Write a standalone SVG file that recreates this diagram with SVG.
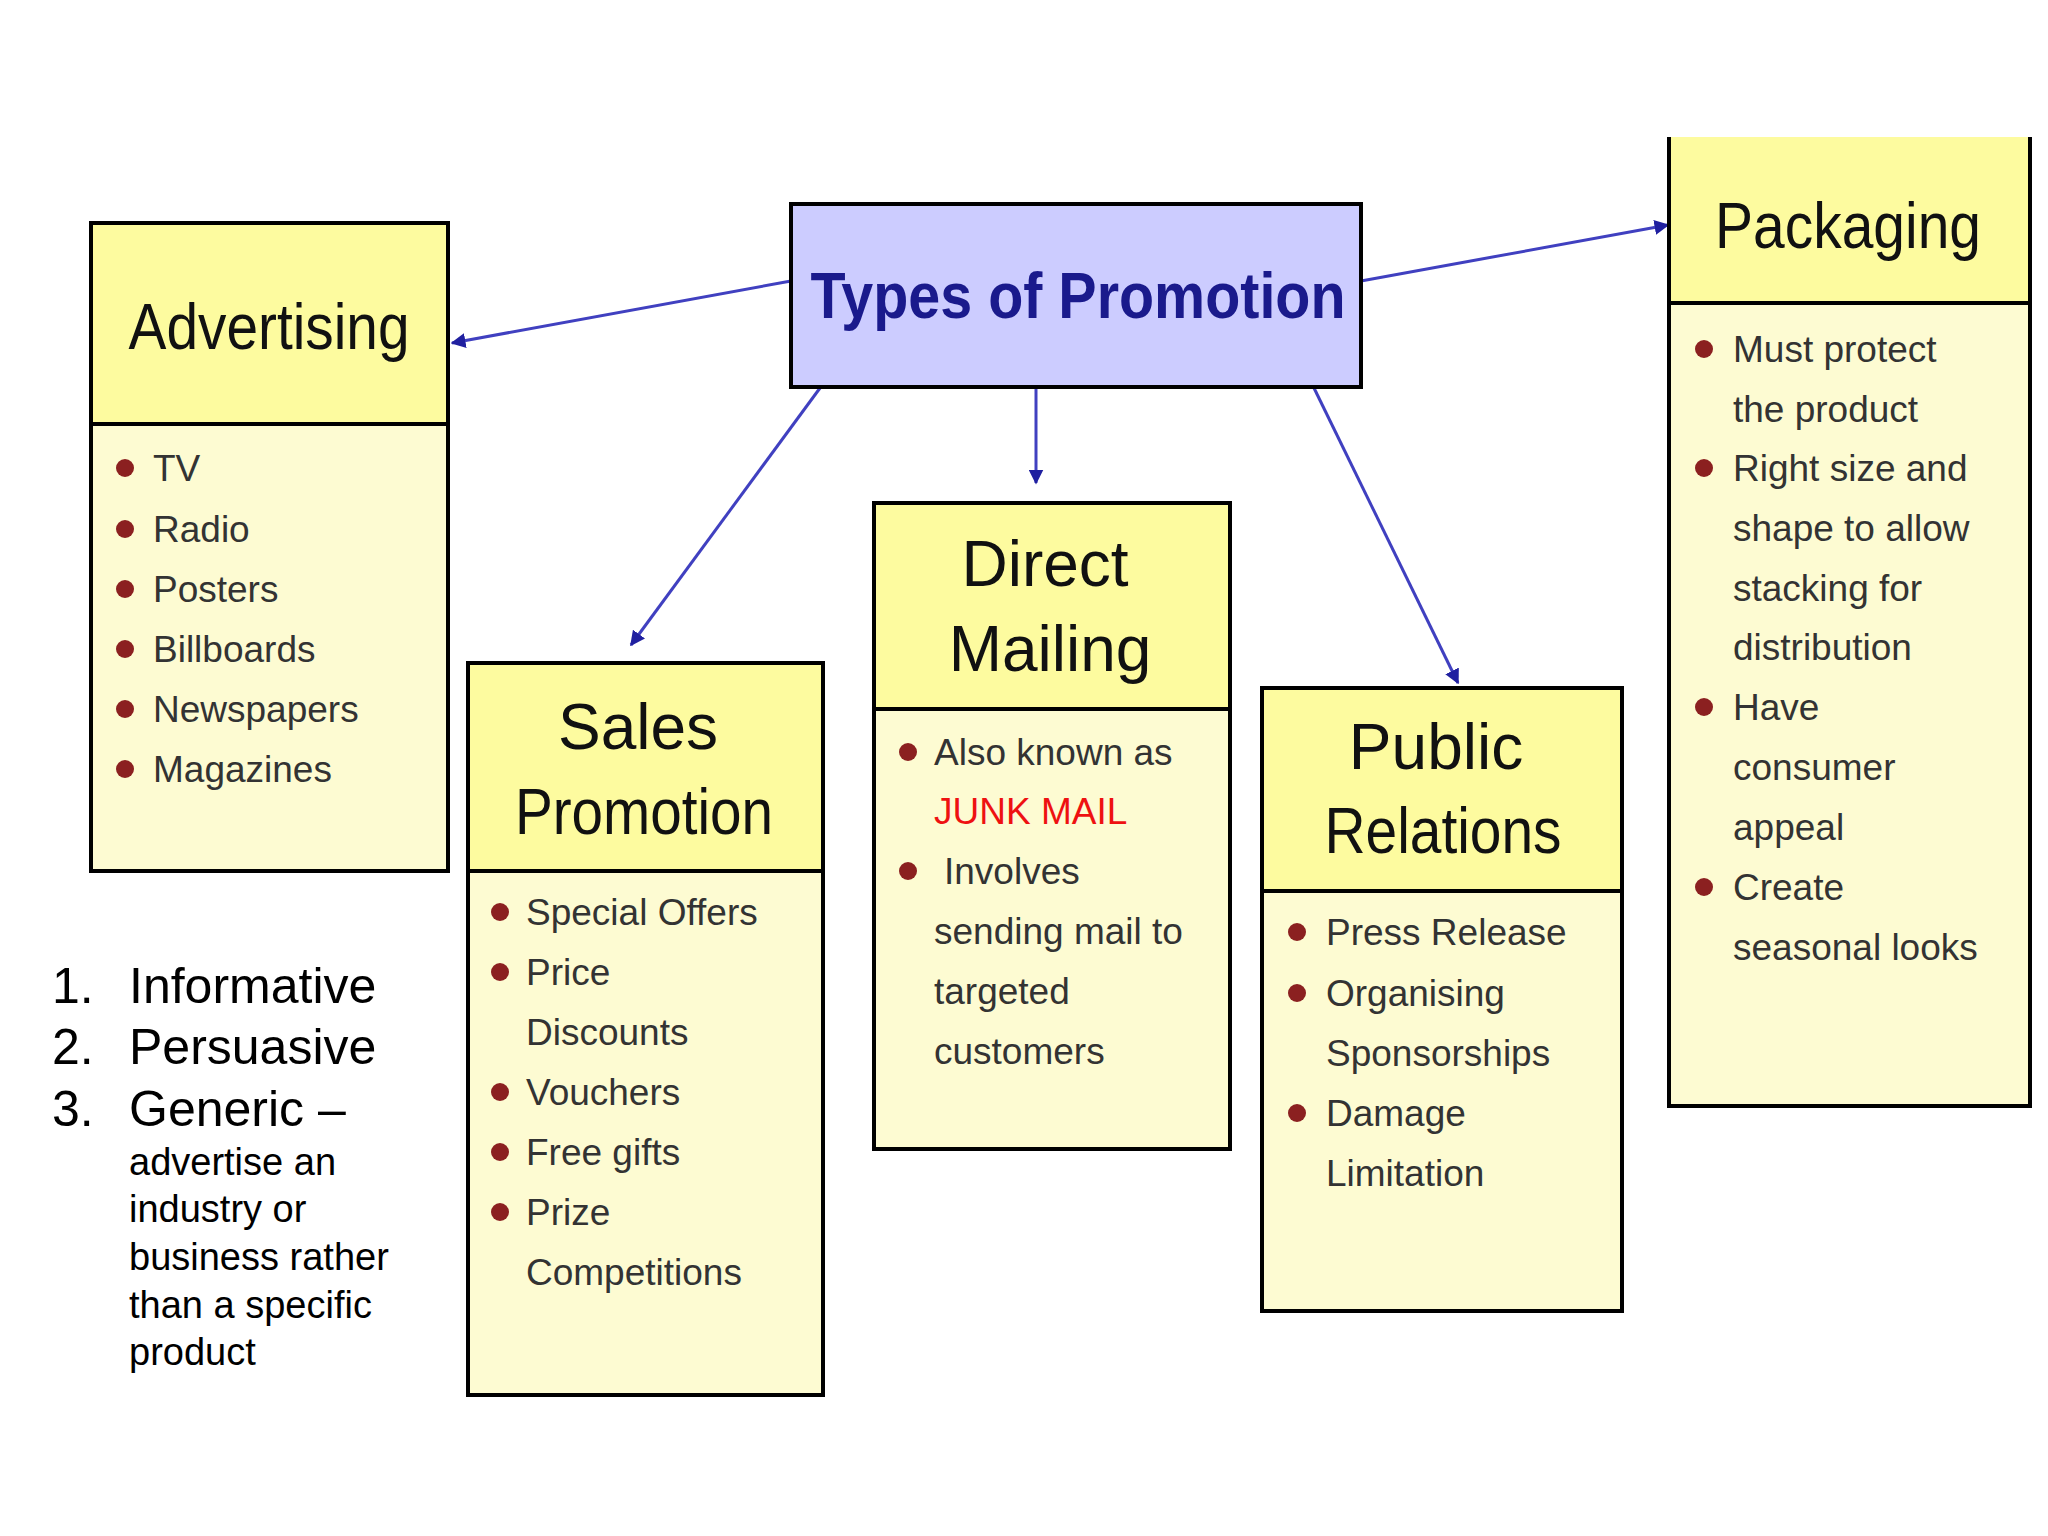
<svg xmlns="http://www.w3.org/2000/svg" width="2048" height="1536" viewBox="0 0 2048 1536">
<style>
.box{stroke:#000;stroke-width:4}
.hd{fill:#fdfb9f}
.bd{fill:#fdfbd2}
.ht{font-family:"Liberation Sans",Arial,sans-serif;font-size:64px;fill:#111;text-anchor:middle}
.bt{font-family:"Liberation Sans",Arial,sans-serif;font-size:37px;fill:#333}
.lt{font-family:"Liberation Sans",Arial,sans-serif;fill:#000}
.dot{fill:#8b2020}
.con{stroke:#4040c0;stroke-width:3;fill:none;marker-end:url(#ah)}
</style>
<defs><marker id="ah" viewBox="0 0 10 10" refX="9" refY="5" markerWidth="5" markerHeight="5" orient="auto"><path d="M0,0L10,5L0,10z" fill="#2020a0"/></marker></defs>
<rect width="2048" height="1536" fill="#fff"/>
<g id="connectors">
<line class="con" x1="791" y1="281" x2="452" y2="343"/>
<line class="con" x1="1361" y1="281" x2="1668" y2="225"/>
<line class="con" x1="820" y1="388" x2="631" y2="645"/>
<line class="con" x1="1036" y1="388" x2="1036" y2="483"/>
<line class="con" x1="1314" y1="388" x2="1458" y2="683"/>
</g>
<g id="types">
<rect class="box" x="791" y="204" width="570" height="183" fill="#ccccff"/>
<text x="1078" y="318" class="ht" font-weight="bold" style="fill:#1a1a8c" textLength="535" lengthAdjust="spacingAndGlyphs">Types of Promotion</text>
</g>
<g id="advertising">
<rect class="box bd" x="91" y="223" width="357" height="648"/>
<rect class="box hd" x="91" y="223" width="357" height="201"/>
<text x="269" y="349" class="ht" textLength="281" lengthAdjust="spacingAndGlyphs">Advertising</text>
<circle class="dot" cx="125" cy="468" r="9"/><text x="153" y="481" class="bt">TV</text>
<circle class="dot" cx="125" cy="529" r="9"/><text x="153" y="542" class="bt">Radio</text>
<circle class="dot" cx="125" cy="589" r="9"/><text x="153" y="602" class="bt">Posters</text>
<circle class="dot" cx="125" cy="649" r="9"/><text x="153" y="662" class="bt">Billboards</text>
<circle class="dot" cx="125" cy="709" r="9"/><text x="153" y="722" class="bt">Newspapers</text>
<circle class="dot" cx="125" cy="769" r="9"/><text x="153" y="782" class="bt">Magazines</text>
</g>
<g id="packaging">
<rect class="bd" x="1669" y="137" width="361" height="969"/>
<rect class="hd" x="1669" y="137" width="361" height="166"/>
<path d="M1669,137V1106H2030V137M1669,303H2030" fill="none" stroke="#000" stroke-width="4"/>
<text x="1848" y="248" class="ht" textLength="266" lengthAdjust="spacingAndGlyphs">Packaging</text>
<circle class="dot" cx="1704" cy="349" r="9"/><text x="1733" y="362" class="bt">Must protect</text>
<text x="1733" y="422" class="bt">the product</text>
<circle class="dot" cx="1704" cy="468" r="9"/><text x="1733" y="481" class="bt">Right size and</text>
<text x="1733" y="541" class="bt">shape to allow</text>
<text x="1733" y="601" class="bt">stacking for</text>
<text x="1733" y="660" class="bt">distribution</text>
<circle class="dot" cx="1704" cy="707" r="9"/><text x="1733" y="720" class="bt">Have</text>
<text x="1733" y="780" class="bt">consumer</text>
<text x="1733" y="840" class="bt">appeal</text>
<circle class="dot" cx="1704" cy="887" r="9"/><text x="1733" y="900" class="bt">Create</text>
<text x="1733" y="960" class="bt">seasonal looks</text>
</g>
<g id="sales">
<rect class="box bd" x="468" y="663" width="355" height="732"/>
<rect class="box hd" x="468" y="663" width="355" height="208"/>
<text x="638" y="749" class="ht">Sales</text>
<text x="644" y="834" class="ht" textLength="258" lengthAdjust="spacingAndGlyphs">Promotion</text>
<circle class="dot" cx="500" cy="912" r="9"/><text x="526" y="925" class="bt">Special Offers</text>
<circle class="dot" cx="500" cy="972" r="9"/><text x="526" y="985" class="bt">Price</text>
<text x="526" y="1045" class="bt">Discounts</text>
<circle class="dot" cx="500" cy="1092" r="9"/><text x="526" y="1105" class="bt">Vouchers</text>
<circle class="dot" cx="500" cy="1152" r="9"/><text x="526" y="1165" class="bt">Free gifts</text>
<circle class="dot" cx="500" cy="1212" r="9"/><text x="526" y="1225" class="bt">Prize</text>
<text x="526" y="1285" class="bt">Competitions</text>
</g>
<g id="direct">
<rect class="box bd" x="874" y="503" width="356" height="646"/>
<rect class="box hd" x="874" y="503" width="356" height="206"/>
<text x="1045" y="586" class="ht">Direct</text>
<text x="1050" y="671" class="ht">Mailing</text>
<circle class="dot" cx="908" cy="752" r="9"/><text x="934" y="765" class="bt">Also known as</text>
<text x="934" y="824" class="bt" style="fill:#ee1111">JUNK MAIL</text>
<circle class="dot" cx="908" cy="871" r="9"/><text x="944" y="884" class="bt">Involves</text>
<text x="934" y="944" class="bt">sending mail to</text>
<text x="934" y="1004" class="bt">targeted</text>
<text x="934" y="1064" class="bt">customers</text>
</g>
<g id="pr">
<rect class="box bd" x="1262" y="688" width="360" height="623"/>
<rect class="box hd" x="1262" y="688" width="360" height="203"/>
<text x="1436" y="769" class="ht">Public</text>
<text x="1443" y="853" class="ht" textLength="237" lengthAdjust="spacingAndGlyphs">Relations</text>
<circle class="dot" cx="1297" cy="932" r="9"/><text x="1326" y="945" class="bt">Press Release</text>
<circle class="dot" cx="1297" cy="993" r="9"/><text x="1326" y="1006" class="bt">Organising</text>
<text x="1326" y="1066" class="bt">Sponsorships</text>
<circle class="dot" cx="1297" cy="1113" r="9"/><text x="1326" y="1126" class="bt">Damage</text>
<text x="1326" y="1186" class="bt">Limitation</text>
</g>
<g id="list">
<text x="52" y="1003" class="lt" font-size="50">1.</text><text x="129" y="1003" class="lt" font-size="50">Informative</text>
<text x="52" y="1064" class="lt" font-size="50">2.</text><text x="129" y="1064" class="lt" font-size="50">Persuasive</text>
<text x="52" y="1126" class="lt" font-size="50">3.</text><text x="129" y="1126" class="lt" font-size="50">Generic –</text>
<text x="129" y="1175" class="lt" font-size="38">advertise an</text>
<text x="129" y="1222" class="lt" font-size="38">industry or</text>
<text x="129" y="1270" class="lt" font-size="38">business rather</text>
<text x="129" y="1318" class="lt" font-size="38">than a specific</text>
<text x="129" y="1365" class="lt" font-size="38">product</text>
</g>
</svg>
